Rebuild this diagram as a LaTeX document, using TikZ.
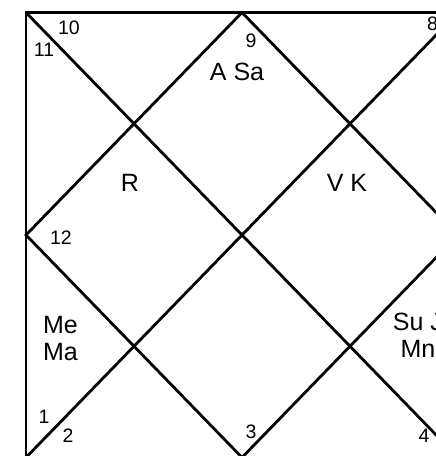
\documentclass[tikz,border=0pt]{standalone}
\usepackage{fontspec}
\setmainfont{Liberation Sans}
\begin{document}
\begin{tikzpicture}[x=1pt,y=-1pt,
  chartline/.style={line width=2.8pt, line cap=butt, line join=miter},
  lbl/.style={inner sep=0pt, font=\fontsize{25}{30}\selectfont},
  num/.style={inner sep=0pt, font=\fontsize{19.5}{23}\selectfont}]
\useasboundingbox (0,0) rectangle (436,456);
\clip (0,0) rectangle (436,456);
% chart corners and midpoints
\coordinate (TL) at (26,12.5);
\coordinate (TM) at (242,12.5);
\coordinate (TR) at (458,12.5);
\coordinate (ML) at (26,235);
\coordinate (MR) at (458,235);
\coordinate (BL) at (26,457.5);
\coordinate (BM) at (242,457.5);
\coordinate (BR) at (458,457.5);
\draw[chartline] (TL) rectangle (BR);
\draw[chartline] (TL) -- (BR);
\draw[chartline] (TR) -- (BL);
\draw[chartline] (TM) -- (MR) -- (BM) -- (ML) -- cycle;
% house numbers
\node[num] (n10) at (69,27.5) {10};
\node[num] (n11) at (44,49.5) {11};
\node[num] (n9) at (251,40.5) {9};
\node[num] (n8) at (432.5,24) {8};
\node[num] (n12) at (61,238) {12};
\node[num] (n1) at (44,417) {1};
\node[num] (n2) at (68,436) {2};
\node[num] (n3) at (251,431.5) {3};
\node[num] (n4) at (424,435.5) {4};
% planets
\node[lbl] (asa) at (237,71.5) {A Sa};
\node[lbl] (r) at (130,183) {R};
\node[lbl] (vk) at (347,183) {V K};
\node[lbl] (me) at (60.5,325.5) {Me};
\node[lbl] (ma) at (60.5,352) {Ma};
\node[lbl] (suj) at (418,322) {Su J};
\node[lbl] (mn) at (418,349) {Mn};
\end{tikzpicture}
\end{document}
